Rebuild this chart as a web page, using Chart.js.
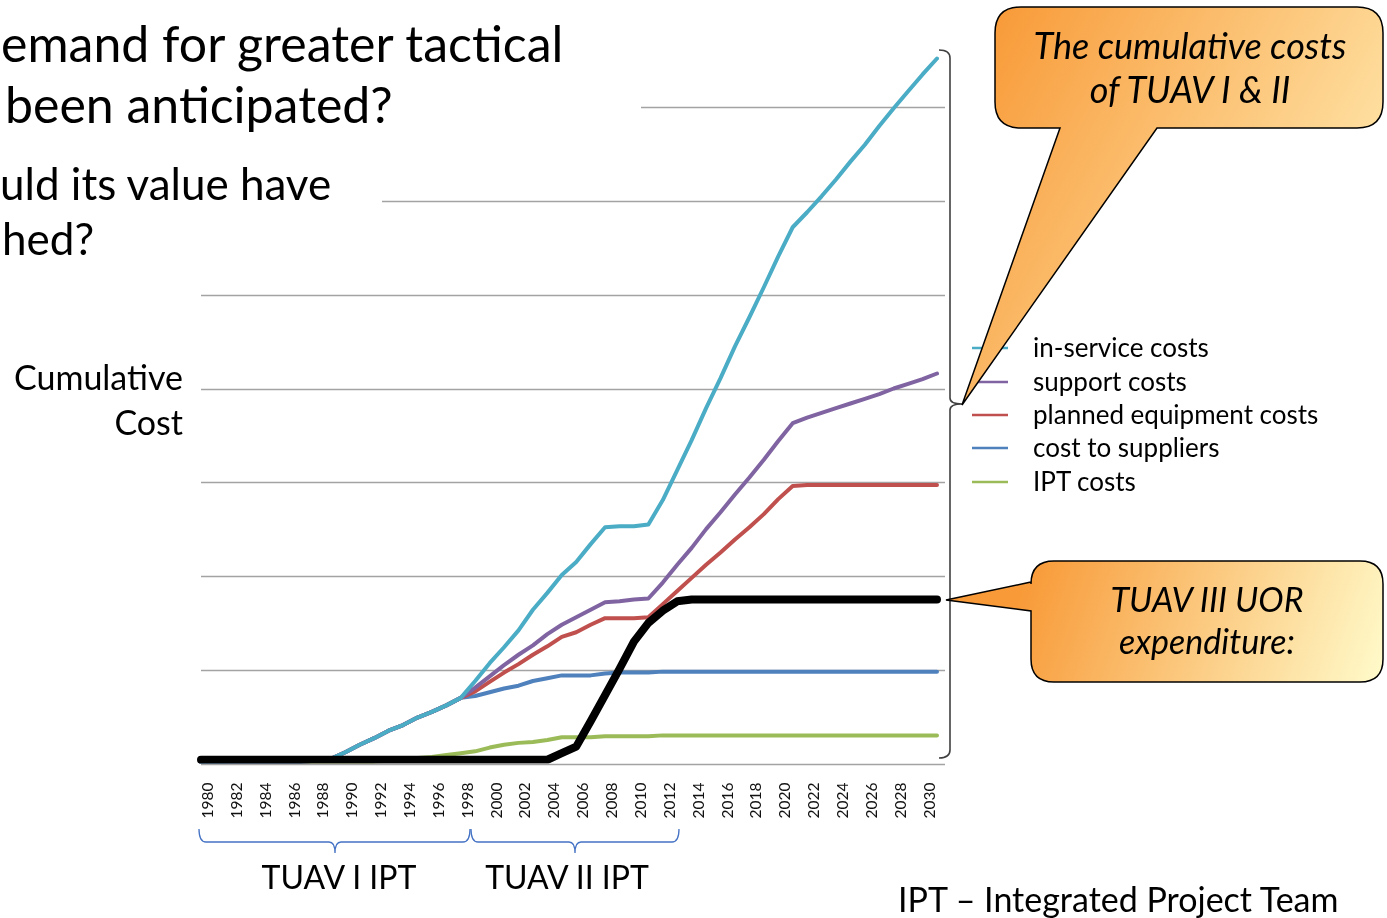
<!DOCTYPE html>
<html><head><meta charset="utf-8">
<script src="https://cdn.jsdelivr.net/npm/chart.js@4.4.1/dist/chart.umd.min.js"></script>
<style>
html,body{margin:0;padding:0;background:#fff;overflow:hidden}
#wrap{position:relative;width:1387px;height:918px}
#c{position:absolute;left:0;top:0}
#ov{position:absolute;left:0;top:0}
svg text{font-family:Lato,'Open Sans',sans-serif;fill:#000}
</style></head><body>
<div id="wrap">
<canvas id="c" width="1387" height="918"></canvas>
<svg id="ov" width="1387" height="918" xmlns="http://www.w3.org/2000/svg">
<defs>
 <linearGradient id="g1" gradientUnits="userSpaceOnUse" x1="995" y1="7" x2="1383" y2="220">
  <stop offset="0" stop-color="#F89A38"/><stop offset="1" stop-color="#FFE7AC"/>
 </linearGradient>
 <linearGradient id="g2" gradientUnits="userSpaceOnUse" x1="1031" y1="561" x2="1383" y2="682">
  <stop offset="0" stop-color="#F89A38"/><stop offset="1" stop-color="#FFFBCB"/>
 </linearGradient>
</defs>
<rect x="0" y="0" width="641" height="140" fill="#fff"/>
<rect x="0" y="150" width="382" height="120" fill="#fff"/>
<text x="1" y="62" font-size="50">emand for greater tactical</text>
<text x="5" y="123" font-size="50">been anticipated?</text>
<text x="0" y="200" font-size="44">uld its value have</text>
<text x="2" y="255" font-size="44">hed?</text>
<text x="183" y="390" font-size="34" text-anchor="end">Cumulative</text>
<text x="183" y="435" font-size="34" text-anchor="end">Cost</text>
<path d="M199,829 Q199,842 206,842 H329 Q335,842 335,853 Q335,842 341,842 H463 Q470,842 470,829" fill="none" stroke="#4472C4" stroke-width="1.3"/>
<path d="M471,829 Q471,842 478,842 H569 Q575,842 575,853 Q575,842 581,842 H672 Q679,842 679,829" fill="none" stroke="#4472C4" stroke-width="1.3"/>
<text x="339" y="889" font-size="32" text-anchor="middle">TUAV I IPT</text>
<text x="567" y="889" font-size="32" text-anchor="middle">TUAV II IPT</text>
<text x="898" y="912" font-size="34">IPT – Integrated Project Team</text>
<path d="M939,50 Q950,50 950,58 L950,398 Q950,404 962,404 Q950,404 950,410 L950,750 Q950,758 939,758" fill="none" stroke="#404040" stroke-width="1.6"/>
<g id="legend"></g>
<path d="M1021,7 H1357 Q1383,7 1383,33 V102 Q1383,128 1357,128 H1157 L962,405 L1060,128 H1021 Q995,128 995,102 V33 Q995,7 1021,7 Z" fill="url(#g1)" stroke="#000" stroke-width="1.5"/>
<text x="1190" y="59" font-size="36" font-style="italic" text-anchor="middle">The cumulative costs</text>
<text x="1190" y="103" font-size="36" font-style="italic" text-anchor="middle">of TUAV I &amp; II</text>
<path d="M1054,561 H1360 Q1383,561 1383,584 V659 Q1383,682 1360,682 H1054 Q1031,682 1031,659 V611 L946,600 L1031,582 V584 Q1031,561 1054,561 Z" fill="url(#g2)" stroke="#000" stroke-width="1.5"/>
<text x="1207" y="612" font-size="34" font-style="italic" text-anchor="middle">TUAV III UOR</text>
<text x="1207" y="654" font-size="34" font-style="italic" text-anchor="middle">expenditure:</text>
</svg>
</div>
<script>
const years = ['1980','1981','1982','1983','1984','1985','1986','1987','1988','1989',
 '1990','1991','1992','1993','1994','1995','1996','1997','1998','1999',
 '2000','2001','2002','2003','2004','2005','2006','2007','2008','2009',
 '2010','2011','2012','2013','2014','2015','2016','2017','2018','2019',
 '2020','2021','2022','2023','2024','2025','2026','2027','2028','2029',
 '2030','2031'];
const tickLabels = ['1980','','1982','','1984','','1986','','1988','',
 '1990','','1992','','1994','','1996','','1998','',
 '2000','','2002','','2004','','2006','','2008','',
 '2010','','2012','','2014','','2016','','2018','',
 '2020','','2022','','2024','','2026','','2028','',
 '2030',''];
const inServiceCosts = [-0.1,0.1,0.2,0.2,0.2,0.2,0.2,0.2,0.3,0.5,
 1.2,2.0,2.7,3.5,4.1,4.9,5.5,6.2,7.0,8.8,
 10.7,12.4,14.2,16.4,18.2,20.1,21.5,23.4,25.2,25.3,
 25.3,25.5,28.1,31.3,34.5,37.9,41.1,44.5,47.6,50.8,
 54.1,57.2,58.8,60.5,62.3,64.2,66.0,68.0,69.9,71.7,
 73.5,75.2];
const supportCosts = [-0.1,0.1,0.2,0.2,0.2,0.2,0.2,0.2,0.3,0.5,
 1.2,2.0,2.7,3.5,4.1,4.9,5.5,6.2,7.0,8.1,
 9.3,10.5,11.6,12.6,13.8,14.8,15.6,16.4,17.2,17.3,
 17.5,17.6,19.3,21.2,23.0,25.0,26.8,28.7,30.5,32.4,
 34.4,36.3,36.9,37.4,37.9,38.4,38.9,39.4,40.0,40.5,
 41.0,41.6];
const plannedEquipmentCosts = [-0.1,0.1,0.2,0.2,0.2,0.2,0.2,0.2,0.3,0.5,
 1.2,2.0,2.7,3.5,4.1,4.9,5.5,6.2,7.0,7.7,
 8.7,9.7,10.6,11.6,12.5,13.5,14.0,14.8,15.5,15.5,
 15.5,15.6,17.0,18.4,19.8,21.2,22.5,23.9,25.2,26.6,
 28.2,29.6,29.7,29.7,29.7,29.7,29.7,29.7,29.7,29.7,
 29.7,29.7];
const costToSuppliers = [-0.1,0.1,0.2,0.2,0.2,0.2,0.2,0.2,0.3,0.5,
 1.2,2.0,2.7,3.5,4.1,4.9,5.5,6.2,7.0,7.2,
 7.6,8.0,8.3,8.8,9.1,9.4,9.4,9.4,9.6,9.7,
 9.7,9.7,9.8,9.8,9.8,9.8,9.8,9.8,9.8,9.8,
 9.8,9.8,9.8,9.8,9.8,9.8,9.8,9.8,9.8,9.8,
 9.8,9.8];
const iptCosts = [0.2,0.2,0.2,0.2,0.2,0.2,0.2,0.2,0.2,0.2,
 0.2,0.2,0.2,0.3,0.4,0.6,0.7,0.9,1.1,1.3,
 1.7,2.0,2.2,2.3,2.5,2.8,2.8,2.8,2.9,2.9,
 2.9,2.9,3.0,3.0,3.0,3.0,3.0,3.0,3.0,3.0,
 3.0,3.0,3.0,3.0,3.0,3.0,3.0,3.0,3.0,3.0,
 3.0,3.0];
const tuavIIIUorExpenditure = [0.4,0.4,0.4,0.4,0.4,0.4,0.4,0.4,0.4,0.4,
 0.4,0.4,0.4,0.4,0.4,0.4,0.4,0.4,0.4,0.4,
 0.4,0.4,0.4,0.4,0.4,1.1,1.8,4.5,7.3,10.1,
 13.0,15.0,16.3,17.3,17.5,17.5,17.5,17.5,17.5,17.5,
 17.5,17.5,17.5,17.5,17.5,17.5,17.5,17.5,17.5,17.5,
 17.5,17.5];
const gridValues = [0,10,20,30,40,50,60,70];

const gridPlugin = {
  id:'gridExt',
  beforeDatasetsDraw(chart){
    const {ctx, chartArea, scales} = chart;
    ctx.save();
    ctx.strokeStyle = '#a3a3a3';
    ctx.lineWidth = 1.4;
    gridValues.forEach(v=>{
      const y = Math.round(scales.y.getPixelForValue(v)) + 0.5;
      ctx.beginPath();
      ctx.moveTo(chartArea.left, y);
      ctx.lineTo(chartArea.right + 8, y);
      ctx.stroke();
    });
    ctx.restore();
  }
};

const chart = new Chart(document.getElementById('c'), {
  type:'line',
  data:{
    labels: years,
    datasets:[
      {label:'TUAV III UOR expenditure', data:tuavIIIUorExpenditure, borderColor:'#000000', borderWidth:8, legend:false},
      {label:'in-service costs', data:inServiceCosts, borderColor:'#4BACC6', borderWidth:4},
      {label:'support costs', data:supportCosts, borderColor:'#8064A2', borderWidth:4},
      {label:'planned equipment costs', data:plannedEquipmentCosts, borderColor:'#C0504D', borderWidth:4},
      {label:'cost to suppliers', data:costToSuppliers, borderColor:'#4F81BD', borderWidth:4},
      {label:'IPT costs', data:iptCosts, borderColor:'#9BBB59', borderWidth:4}
    ]
  },
  options:{
    responsive:false, animation:false,
    layout:{padding:{left:201, right:450, top:51, bottom:94.5}},
    plugins:{legend:{display:false}, tooltip:{enabled:false}},
    elements:{point:{radius:0}, line:{tension:0, borderCapStyle:'round', borderJoinStyle:'round', fill:false}},
    scales:{
      x:{type:'category', offset:false,
         grid:{display:false, drawTicks:false}, border:{display:false},
         afterFit(s){ s.height = 60; },
         ticks:{autoSkip:false, minRotation:90, maxRotation:90, padding:19, labelOffset:7,
                color:'#111', font:{family:'Lato', size:15.5},
                callback:(v,i)=>tickLabels[i]}},
      y:{display:false, min:0, max:76}
    }
  },
  plugins:[gridPlugin]
});

// legend built from datasets
const NS = 'http://www.w3.org/2000/svg';
const lg = document.getElementById('legend');
const legendY = [348, 382, 415, 448, 482];
chart.data.datasets.filter(d=>d.legend!==false).forEach((d,i)=>{
  const y = legendY[i];
  const l = document.createElementNS(NS,'line');
  l.setAttribute('x1',972); l.setAttribute('x2',1008);
  l.setAttribute('y1',y); l.setAttribute('y2',y);
  l.setAttribute('stroke',d.borderColor); l.setAttribute('stroke-width',2.5);
  lg.appendChild(l);
  const t = document.createElementNS(NS,'text');
  t.setAttribute('x',1033); t.setAttribute('y',y+9);
  t.setAttribute('font-size',26);
  t.textContent = d.label;
  lg.appendChild(t);
});
</script>
</body></html>
